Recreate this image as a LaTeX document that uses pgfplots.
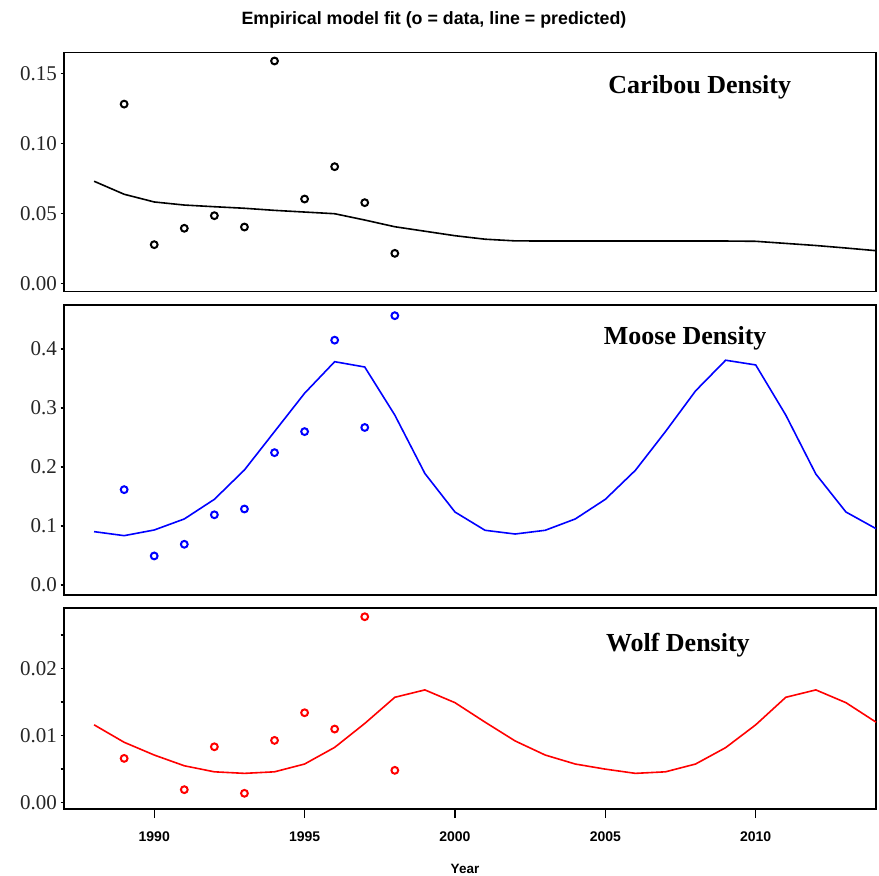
\documentclass[border=0pt]{standalone}
\usepackage{fontspec}
\setmainfont{Liberation Serif}
\newfontfamily\arialfont{Liberation Sans}
\usepackage{pgfplots}
\pgfplotsset{compat=1.18}

\pgfplotstableread{
x y
1988 0.0729
1989 0.0636
1990 0.0581
1991 0.0559
1992 0.0547
1993 0.0536
1994 0.0521
1995 0.0509
1996 0.0497
1997 0.0452
1998 0.0404
1999 0.0372
2000 0.0340
2001 0.0315
2002 0.0303
2003 0.0302
2004 0.0302
2005 0.0302
2006 0.0302
2007 0.0302
2008 0.0302
2009 0.0302
2010 0.0300
2011 0.0285
2012 0.0270
2013 0.0252
2014 0.0233
}\caribouline
\pgfplotstableread{
x y
1989 0.128
1990 0.0276
1991 0.0393
1992 0.0483
1993 0.0402
1994 0.1588
1995 0.0602
1996 0.0833
1997 0.0576
1998 0.0214
}\caribouobs
\pgfplotstableread{
x y
1988 0.0904
1989 0.0836
1990 0.0932
1991 0.1119
1992 0.1452
1993 0.1950
1994 0.2600
1995 0.3250
1996 0.3785
1997 0.3695
1998 0.2880
1999 0.1890
2000 0.1237
2001 0.0927
2002 0.0864
2003 0.0927
2004 0.1119
2005 0.1452
2006 0.1944
2007 0.2600
2008 0.3290
2009 0.3810
2010 0.3730
2011 0.2880
2012 0.1880
2013 0.1237
2014 0.0955
}\mooseline
\pgfplotstableread{
x y
1989 0.1616
1990 0.0492
1991 0.0690
1992 0.1190
1993 0.1288
1994 0.2243
1995 0.2600
1996 0.4150
1997 0.2670
1998 0.4565
}\mooseobs
\pgfplotstableread{
x y
1988 0.0116
1989 0.0090
1990 0.0071
1991 0.0055
1992 0.0046
1993 0.00437
1994 0.0046
1995 0.00576
1996 0.00824
1997 0.0118
1998 0.0157
1999 0.0168
2000 0.0149
2001 0.0120
2002 0.0092
2003 0.0071
2004 0.00576
2005 0.0050
2006 0.00437
2007 0.0046
2008 0.00576
2009 0.0082
2010 0.0116
2011 0.0157
2012 0.0168
2013 0.0149
2014 0.0120
}\wolfline
\pgfplotstableread{
x y
1989 0.0066
1991 0.00194
1992 0.00833
1993 0.0014
1994 0.00928
1995 0.0134
1996 0.01097
1997 0.0277
1998 0.00482
}\wolfobs

\pgfplotsset{
  panel/.style={
    scale only axis, width=812pt,
    xmin=1987, xmax=2014,
    anchor=north west,
    axis line style={line width=1.5pt},
    tick style={line width=1.3pt, black},
    tick align=outside,
    xtick pos=bottom, ytick pos=left,
    major tick length=3.5pt,
    minor tick length=3.5pt,
    scaled y ticks=false,
    clip=false,
    yticklabel style={font=\fontsize{21}{24}\selectfont, text=black!85, /pgf/number format/assume math mode=true},
    xticklabel style={font=\arialfont\bfseries\fontsize{14}{16}\selectfont, /pgf/number format/assume math mode=true, /pgf/number format/1000 sep={}},
  },
  fitline/.style={line width=1.6pt},
  obs/.style={only marks, mark=o, mark size=3.4pt, mark options={line width=2pt}},
  prec/.style={yticklabel style={/pgf/number format/fixed, /pgf/number format/fixed zerofill, /pgf/number format/precision=#1}},
}
\tikzset{ptitle/.style={font=\bfseries\fontsize{26}{30}\selectfont}}

\begin{document}
\begin{tikzpicture}[x=1pt,y=1pt]
\useasboundingbox (0,0) rectangle (879,-876);
\node[font=\arialfont\bfseries\fontsize{17.8}{20}\selectfont] at (434,-20) {Empirical model fit (o = data, line = predicted)};

\begin{axis}[panel, at={(64pt,-52.3pt)}, height=239.4pt,
  ymin=-0.006, ymax=0.165, ytick={0,0.05,0.10,0.15},
  prec=2,
  xtick=\empty]
\addplot[black, fitline] table {\caribouline};
\addplot[black, obs] table {\caribouobs};
\node[ptitle] at (rel axis cs:0.783,0.853) {Caribou Density};
\end{axis}

\begin{axis}[panel, at={(64pt,-305pt)}, height=290pt,
  ymin=-0.017, ymax=0.4746, ytick={0,0.1,0.2,0.3,0.4},
  prec=1,
  xtick=\empty]
\addplot[blue, fitline] table {\mooseline};
\addplot[blue, obs] table {\mooseobs};
\node[ptitle] at (rel axis cs:0.765,0.886) {Moose Density};
\end{axis}

\begin{axis}[panel, at={(64pt,-608pt)}, height=201pt,
  ymin=-0.00094, ymax=0.029, ytick={0,0.01,0.02},
  minor ytick={0.005,0.015,0.025},
  prec=2,
  xtick={1990,1995,2000,2005,2010},
  x tick style={/pgfplots/major tick length=9pt},
  xticklabel style={yshift=-16pt}]
\addplot[red, fitline] table {\wolfline};
\addplot[red, obs] table {\wolfobs};
\node[ptitle] at (rel axis cs:0.756,0.815) {Wolf Density};
\end{axis}

\node[font=\arialfont\bfseries\fontsize{13.5}{16}\selectfont] at (465,-869) {Year};
\end{tikzpicture}
\end{document}
